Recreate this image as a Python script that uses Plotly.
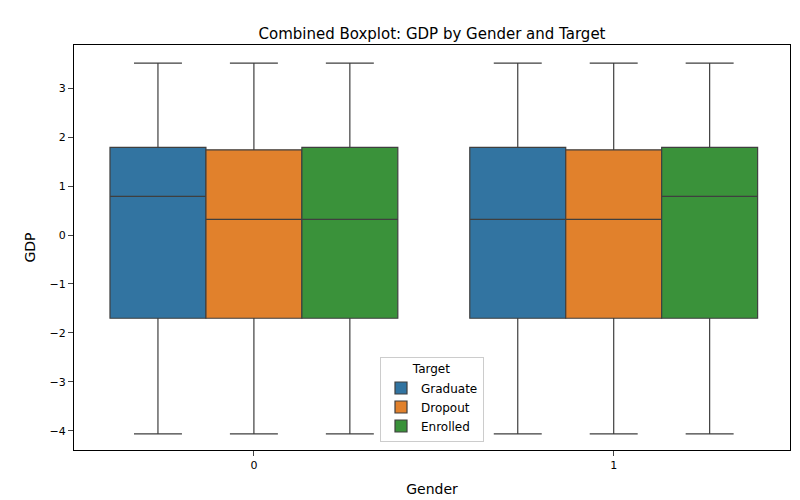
import plotly.graph_objects as go

genders = [0, 1]
targets = ["Graduate", "Dropout", "Enrolled"]
colors = ["#3274a1", "#e1812c", "#3a923a"]
q1 = {"Graduate": [-1.70, -1.70], "Dropout": [-1.70, -1.70], "Enrolled": [-1.70, -1.70]}
median = {"Graduate": [0.79, 0.32], "Dropout": [0.32, 0.32], "Enrolled": [0.32, 0.79]}
q3 = {"Graduate": [1.79, 1.79], "Dropout": [1.74, 1.74], "Enrolled": [1.79, 1.79]}
lower = {"Graduate": [-4.06, -4.06], "Dropout": [-4.06, -4.06], "Enrolled": [-4.06, -4.06]}
upper = {"Graduate": [3.51, 3.51], "Dropout": [3.51, 3.51], "Enrolled": [3.51, 3.51]}

fig = go.Figure()
for t, c in zip(targets, colors):
    fig.add_trace(go.Box(
        x=genders, q1=q1[t], median=median[t], q3=q3[t],
        lowerfence=lower[t], upperfence=upper[t], name=t,
        fillcolor=c, line=dict(color="#3f3f3f", width=1.2),
        whiskerwidth=0.5, boxpoints=False,
    ))

fig.update_layout(
    width=800, height=500, boxmode="group", boxgap=0.2, boxgroupgap=0,
    plot_bgcolor="white", paper_bgcolor="white",
    font=dict(family="DejaVu Sans", size=12, color="#000"),
    title=dict(text="Combined Boxplot: GDP by Gender and Target", x=0.53, xanchor="center", y=0.96, font=dict(size=15)),
    margin=dict(l=66, r=18, t=37, b=58),
    legend=dict(title=dict(text="Target", side="top center", font=dict(size=12)), x=0.5, xanchor="center", y=0.02, yanchor="bottom",
                bordercolor="#cccccc", borderwidth=1, bgcolor="rgba(255,255,255,0.8)", font=dict(size=12)),
    xaxis=dict(title=dict(text="Gender", standoff=12), tickvals=[0, 1], ticktext=["0", "1"], range=[-0.5, 1.49],
               automargin=False, tickfont=dict(size=11),
               showline=True, linecolor="black", mirror=True, ticks="outside", showgrid=False, zeroline=False),
    yaxis=dict(title=dict(text="GDP", standoff=10), range=[-4.39, 3.88], tickvals=[-4, -3, -2, -1, 0, 1, 2, 3],
               ticktext=["−4", "−3", "−2", "−1", "0", "1", "2", "3"], automargin=False, tickfont=dict(size=11),
               showline=True, linecolor="black", mirror=True, ticks="outside", showgrid=False, zeroline=False),
)
fig.write_html("out.html")
